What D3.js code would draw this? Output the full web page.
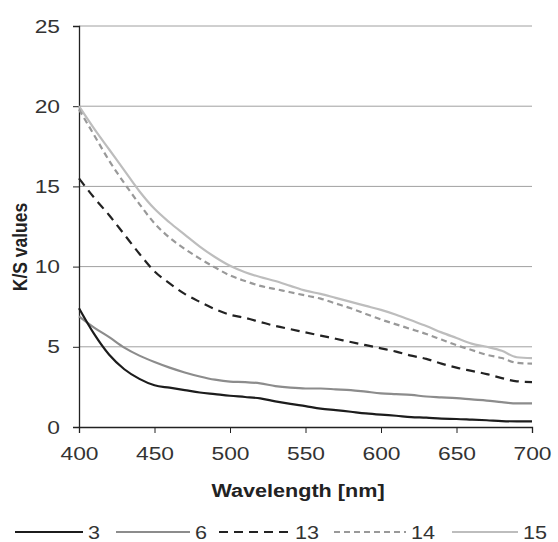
<!DOCTYPE html>
<html>
<head>
<meta charset="utf-8">
<script src="https://cdn.jsdelivr.net/npm/d3@7"></script>
<style>
  body { margin: 0; background: #fff; }
  text { font-family: "Liberation Sans", Arial, sans-serif; }
</style>
</head>
<body>
<svg id="chart" width="558" height="542"></svg>
<script>
// wavelengths, 10 nm steps
var wavelengths = [400,410,420,430,440,450,460,470,480,490,500,510,520,530,540,550,
                   560,570,580,590,600,610,620,630,640,650,660,670,680,690,700];

var s3  = [7.4,5.8,4.5,3.6,3.0,2.6,2.45,2.3,2.15,2.05,1.95,1.87,1.78,1.6,1.44,1.3,
           1.15,1.05,0.95,0.85,0.77,0.7,0.62,0.58,0.52,0.5,0.46,0.42,0.37,0.35,0.35];
var s6  = [6.9,6.2,5.6,4.95,4.45,4.05,3.7,3.4,3.15,2.95,2.83,2.8,2.72,2.55,2.45,2.4,
           2.4,2.35,2.3,2.2,2.1,2.05,2.0,1.9,1.85,1.8,1.72,1.65,1.55,1.47,1.47];
var s13 = [15.5,14.3,13.2,12.0,10.8,9.7,8.95,8.3,7.8,7.35,7.0,6.8,6.55,6.3,6.1,5.9,
           5.7,5.5,5.3,5.1,4.9,4.7,4.45,4.25,3.95,3.7,3.5,3.3,3.05,2.85,2.8];
var s14 = [19.8,18.2,16.6,15.2,13.9,12.7,11.8,11.1,10.5,9.95,9.45,9.1,8.8,8.6,8.4,8.2,
           8.0,7.7,7.4,7.05,6.7,6.4,6.1,5.8,5.45,5.1,4.8,4.5,4.3,4.0,3.95];
var s15 = [20.0,18.6,17.3,16.0,14.7,13.6,12.75,12.0,11.25,10.6,10.05,9.65,9.35,9.1,8.8,8.5,
           8.3,8.05,7.8,7.55,7.3,7.0,6.65,6.3,5.9,5.55,5.2,5.0,4.75,4.35,4.3];

var seriesNames = ["3", "6", "13", "14", "15"];
var xTicks = [400,450,500,550,600,650,700];
var yTicks = [0,5,10,15,20,25];

var styles = {
  "3":  { color: "#1c1c1c", dash: null },
  "6":  { color: "#8c8c8c", dash: null },
  "13": { color: "#222222", dash: "9,6" },
  "14": { color: "#999999", dash: "6,4" },
  "15": { color: "#bdbdbd", dash: null }
};

var svg = d3.select("#chart");
var mLeft = 79, mRight = 532, mTop = 26, mBottom = 427;
var widen = 1.2;  // the reference text looks stretched sideways

var x = d3.scaleLinear().domain([400, 700]).range([mLeft, mRight]);
var y = d3.scaleLinear().domain([0, 25]).range([mBottom, mTop]);

function stretch(sel) {
  sel.each(function() {
    var w = this.getComputedTextLength();
    d3.select(this).attr("textLength", w * widen).attr("lengthAdjust", "spacingAndGlyphs");
  });
}

// gridlines
svg.append("g")
  .selectAll("line")
  .data(yTicks.slice(1))
  .enter().append("line")
  .attr("x1", mLeft).attr("x2", mRight)
  .attr("y1", function(d) { return y(d); })
  .attr("y2", function(d) { return y(d); })
  .attr("stroke", "#a0a0a0")
  .attr("stroke-width", 1);

// y axis
var yAxis = svg.append("g")
  .attr("transform", "translate(" + mLeft + ",0)")
  .call(d3.axisLeft(y).tickValues(yTicks).tickSize(6).tickPadding(13));
yAxis.select(".domain").attr("stroke", "#222").attr("stroke-width", 1.3);
yAxis.selectAll(".tick line").attr("stroke", "#222");
yAxis.selectAll("text").attr("font-size", "19px").attr("fill", "#333")
  .attr("font-family", "Liberation Sans, Arial, sans-serif")
  .call(stretch);

// x axis
var xAxis = svg.append("g")
  .attr("transform", "translate(0," + mBottom + ")")
  .call(d3.axisBottom(x).tickValues(xTicks).tickSize(6).tickPadding(14));
xAxis.select(".domain").attr("stroke", "#222").attr("stroke-width", 1.3);
xAxis.selectAll(".tick line").attr("stroke", "#222");
xAxis.selectAll("text").attr("font-size", "19px").attr("fill", "#333")
  .attr("font-family", "Liberation Sans, Arial, sans-serif")
  .call(stretch);

// axis titles
svg.append("text")
  .attr("x", 298)
  .attr("y", 497)
  .attr("text-anchor", "middle")
  .attr("font-size", "18px")
  .attr("font-weight", "bold")
  .attr("fill", "#222")
  .text("Wavelength [nm]")
  .call(stretch);

svg.append("text")
  .attr("transform", "translate(27,247) rotate(-90) scale(1," + widen + ")")
  .attr("text-anchor", "middle")
  .attr("font-size", "17.5px")
  .attr("font-weight", "bold")
  .attr("fill", "#222")
  .text("K/S values");

// lines
var values = { "3": s3, "6": s6, "13": s13, "14": s14, "15": s15 };
var line = d3.line()
  .curve(d3.curveMonotoneX)
  .x(function(d) { return x(d[0]); })
  .y(function(d) { return y(d[1]); });

var drawOrder = ["15", "14", "13", "6", "3"];
drawOrder.forEach(function(name) {
  var pts = wavelengths.map(function(w, i) { return [w, values[name][i]]; });
  svg.append("path")
    .attr("d", line(pts))
    .attr("fill", "none")
    .attr("stroke", styles[name].color)
    .attr("stroke-width", 2.2)
    .attr("stroke-dasharray", styles[name].dash);
});

// legend
var legendY = 532;
var legendItems = [
  { name: "3",  x1: 15,  x2: 83 },
  { name: "6",  x1: 116, x2: 190 },
  { name: "13", x1: 219, x2: 290 },
  { name: "14", x1: 334, x2: 406 },
  { name: "15", x1: 452, x2: 518 }
];
legendItems.forEach(function(item) {
  svg.append("line")
    .attr("x1", item.x1).attr("x2", item.x2)
    .attr("y1", legendY).attr("y2", legendY)
    .attr("stroke", styles[item.name].color)
    .attr("stroke-width", 2.2)
    .attr("stroke-dasharray", styles[item.name].dash);
  svg.append("text")
    .attr("x", item.x2 + 5)
    .attr("y", legendY + 7)
    .attr("font-size", "18px")
    .attr("fill", "#333")
    .text(item.name)
    .call(stretch);
});
</script>
</body>
</html>
